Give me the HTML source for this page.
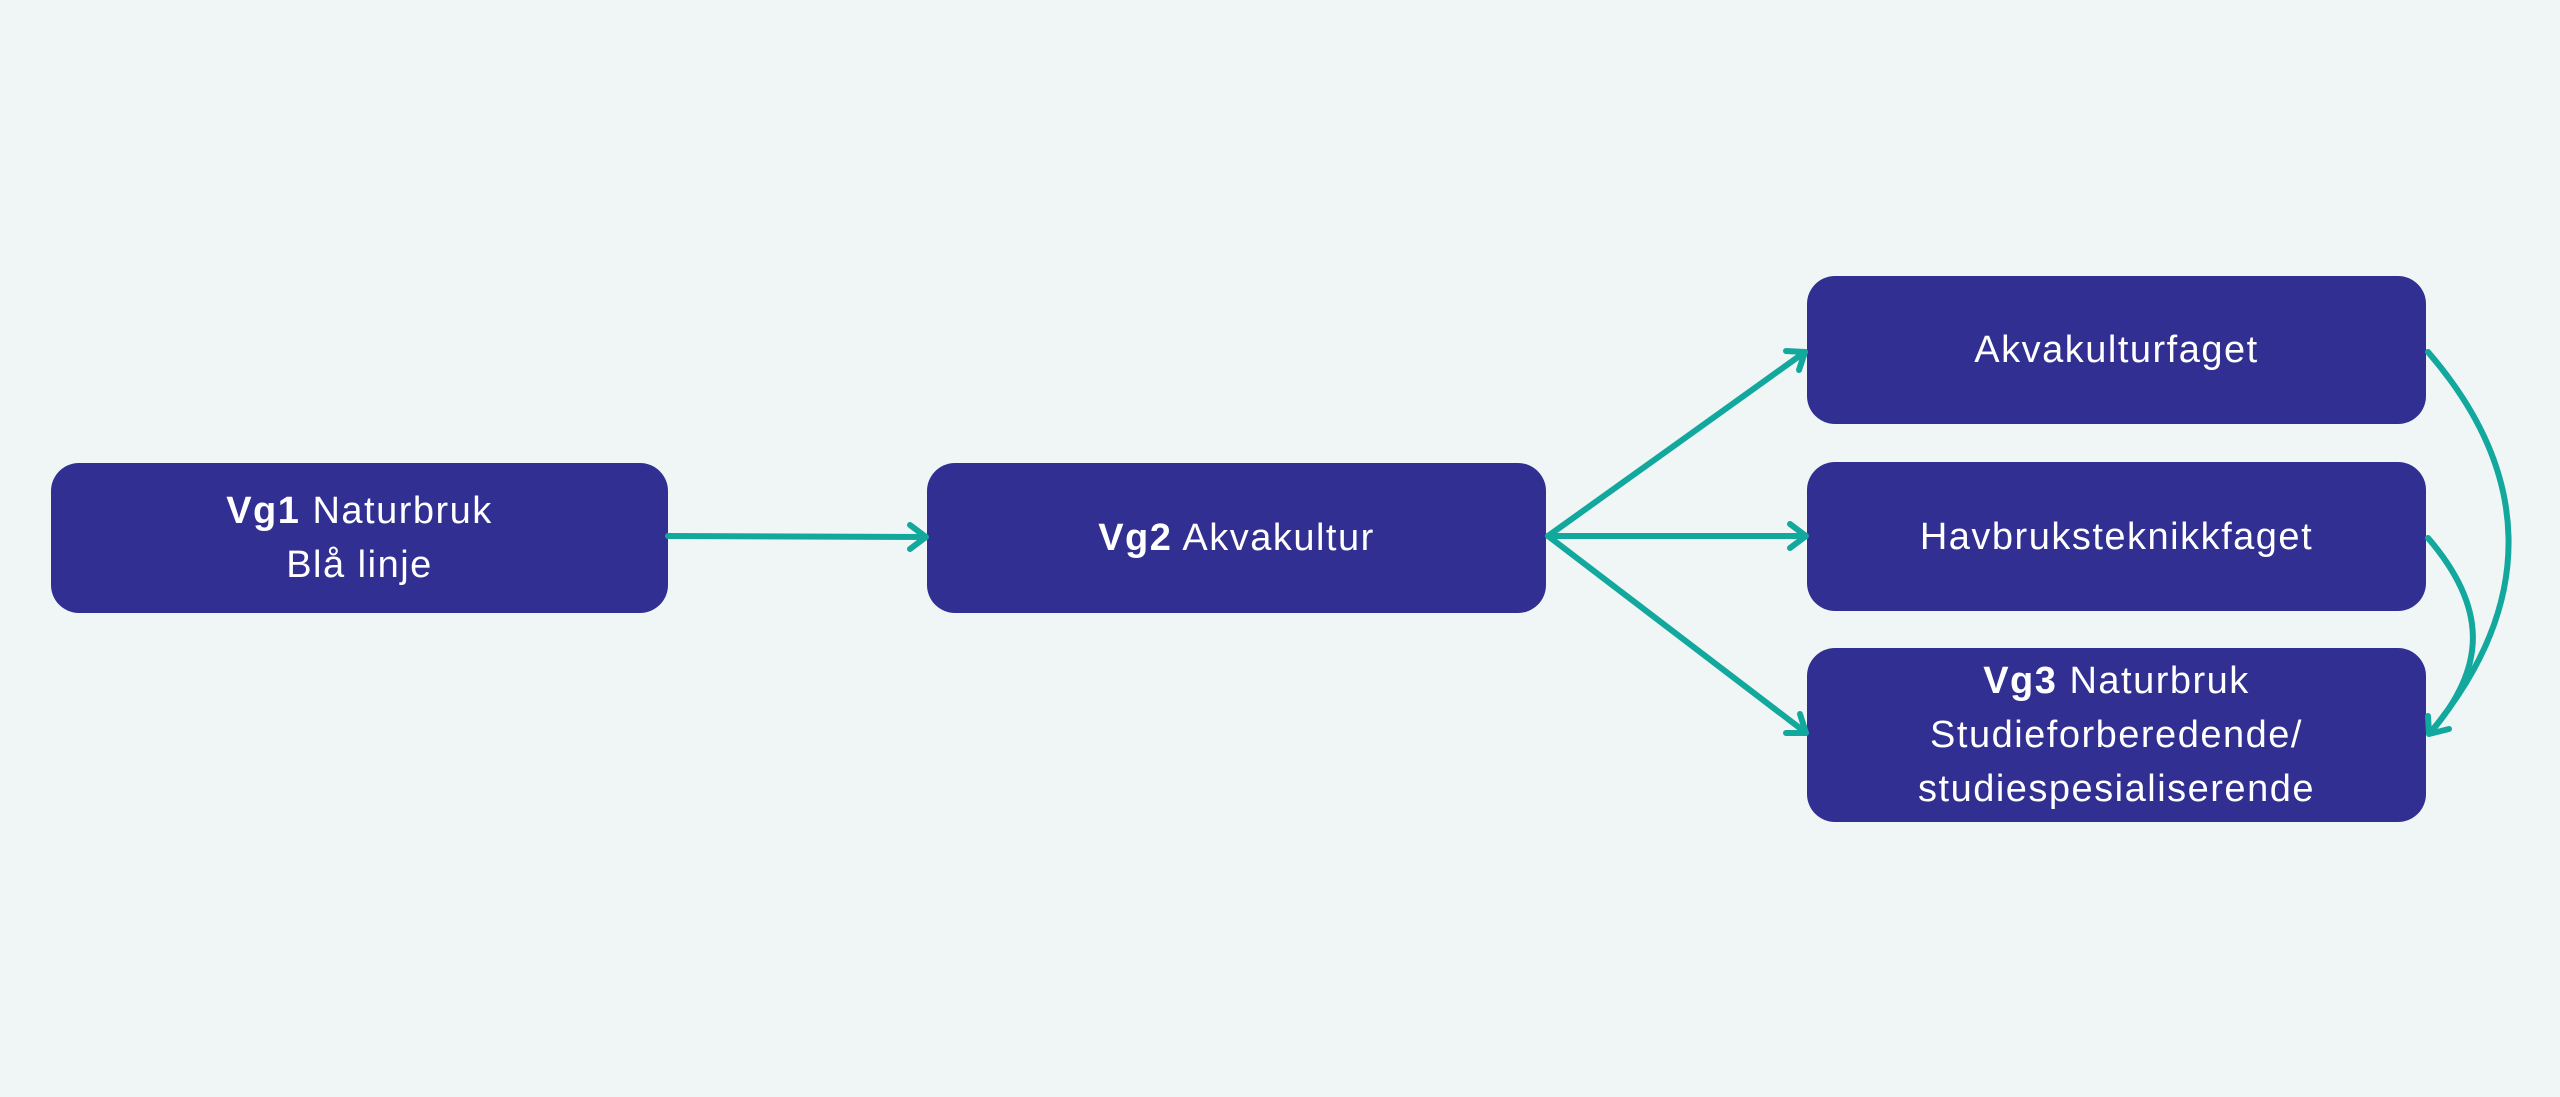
<!DOCTYPE html>
<html><head><meta charset="utf-8"><style>
html,body{margin:0;padding:0}
body{width:2560px;height:1097px;background:#f0f6f5;position:relative;overflow:hidden;font-family:"Liberation Sans",sans-serif}
.b{position:absolute;background:#312f91;border-radius:28px;color:#fff;display:flex;align-items:center;justify-content:center;text-align:center;font-size:38px;line-height:54px;letter-spacing:1.5px}
b{font-weight:bold}
svg{position:absolute;left:0;top:0}
</style></head><body>
<div class="b" style="left:51px;top:463px;width:617px;height:150px"><div><b>Vg1</b> Naturbruk<br>Blå linje</div></div>
<div class="b" style="left:927px;top:463px;width:619px;height:150px"><div><b>Vg2</b> Akvakultur</div></div>
<div class="b" style="left:1807px;top:276px;width:619px;height:148px"><div>Akvakulturfaget</div></div>
<div class="b" style="left:1807px;top:462px;width:619px;height:149px"><div>Havbruksteknikkfaget</div></div>
<div class="b" style="left:1807px;top:648px;width:619px;height:174px"><div><b>Vg3</b> Naturbruk<br>Studieforberedende/<br>studiespesialiserende</div></div>
<svg width="2560" height="1097" fill="none" stroke="#12a89d" stroke-width="6" stroke-linecap="round" stroke-linejoin="round">
<path d="M668 536 L925 537"/><path d="M910 525 L926 537 L910 549"/>
<path d="M1548 536 L1805 352"/><path d="M1786 351 L1805 352 L1799 370"/>
<path d="M1548 536 L1805 536"/><path d="M1790 524 L1806 536 L1790 548"/>
<path d="M1548 536 L1805 732"/><path d="M1800 714 L1806 733 L1786 733"/>
<path d="M2428 352 C2530 470 2540 600 2430 733"/>
<path d="M2428 538 C2490 610 2485 670 2430 733"/>
<path d="M2428 716 L2429 734 L2449 729"/>
</svg>
</body></html>
